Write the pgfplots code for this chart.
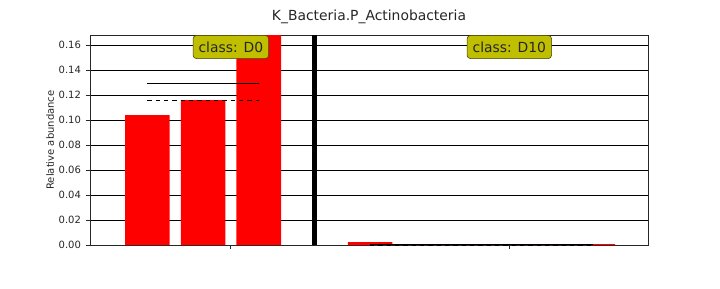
\documentclass[border=0pt]{standalone}
\usepackage{pgfplots}
\pgfplotsset{compat=1.18}
\usepackage{fontspec}
\setmainfont{DejaVu Sans}
\definecolor{barred}{rgb}{1,0,0}
\definecolor{boxfill}{rgb}{0.75,0.75,0}
\definecolor{boxedge}{rgb}{0.25,0.25,0.05}
\definecolor{framecol}{HTML}{262626}
\begin{document}
\begin{tikzpicture}
\path[use as bounding box] (-64.8pt,-30.96pt) rectangle (453.6pt,176.4pt);
\begin{axis}[
  at={(0,0)}, anchor=south west,
  scale only axis, width=401.76pt, height=151.2pt,
  xmin=-1.03, xmax=8.99, ymin=0, ymax=0.168,
  xtick={1.5,6.5}, xticklabels={{},{}},
  ytick={0,0.02,0.04,0.06,0.08,0.10,0.12,0.14,0.16},
  yticklabel style={/pgf/number format/.cd, fixed, fixed zerofill, precision=2, assume math mode=true},
  tick label style={font=\fontsize{7.2}{8}\selectfont, color=framecol},
  tick align=outside, tick pos=left,
  major tick length=3pt,
  every tick/.style={framecol, line width=0.6pt},
  axis line style={framecol, line width=0.6pt},
  ymajorgrids, major grid style={black, line width=0.6pt},
  ylabel={Relative abundance},
  ylabel style={font=\fontsize{7.2}{8}\selectfont, color=framecol, yshift=-3.6pt},
  title={K\_Bacteria.P\_Actinobacteria},
  title style={at={(axis description cs:0.5,1)}, anchor=base, yshift=4.3pt, font=\fontsize{10}{12}\selectfont, color=framecol},
]
\addplot[ybar, bar width=0.8, bar shift=0pt, fill=barred, draw=none] coordinates {
  (0,0.104) (1,0.116) (2,0.168)
  (4,0.0024) (5,0.0) (6,0.0) (7,0.0) (8,0.0008)
};
% means (solid) and medians (dashed)
\addplot[black, line width=0.7pt] coordinates {(0,0.1293) (2,0.1293)};
\addplot[black, line width=0.7pt, dashed] coordinates {(0,0.116) (2,0.116)};
\addplot[black, line width=0.7pt] coordinates {(4,0.00064) (8,0.00064)};
\addplot[black, line width=0.7pt, dashed] coordinates {(4,0.0) (8,0.0)};
% separator
\addplot[black, line width=3pt] coordinates {(3,0) (3,0.168)};
\node[fill=boxfill, draw=boxedge, rounded corners=2.5pt, inner xsep=4pt, inner ysep=4.5pt, font=\fontsize{10}{12}\selectfont, text=framecol] at (axis cs:1.5,0.1584) {class: D0};
\node[fill=boxfill, draw=boxedge, rounded corners=2.5pt, inner xsep=4pt, inner ysep=4.5pt, font=\fontsize{10}{12}\selectfont, text=framecol] at (axis cs:6.5,0.1584) {class: D10};
\end{axis}
\end{tikzpicture}
\end{document}
